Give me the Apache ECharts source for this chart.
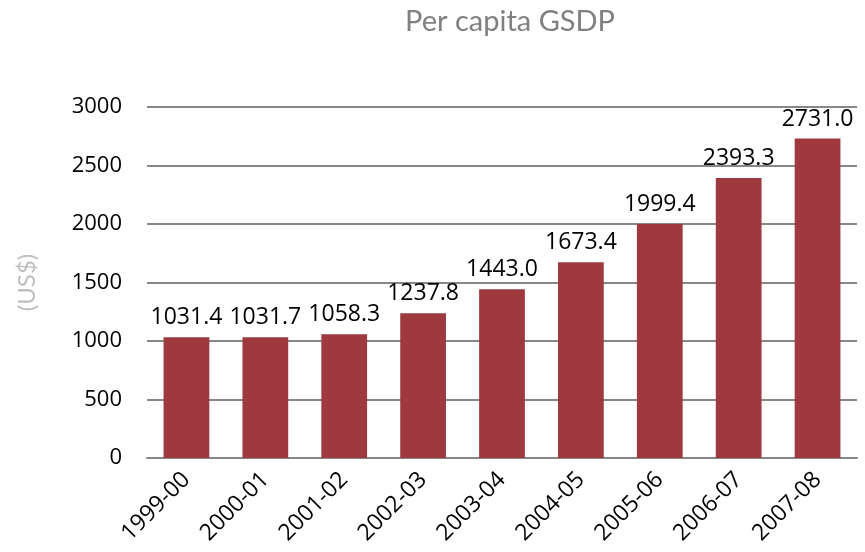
<!DOCTYPE html>
<html><head><meta charset="utf-8">
<script src="https://cdn.jsdelivr.net/npm/echarts@6/dist/echarts.min.js"></script>
<style>html,body{margin:0;padding:0;background:#fff}#c{width:865px;height:552px}</style>
</head><body><div id="c"></div>
<script>
const categories = ['1999-00','2000-01','2001-02','2002-03','2003-04','2004-05','2005-06','2006-07','2007-08'];
const values = [1031.4, 1031.7, 1058.3, 1237.8, 1443.0, 1673.4, 1999.4, 2393.3, 2731.0];
const yTicks = [0, 500, 1000, 1500, 2000, 2500, 3000];
const titleText = 'Per capita GSDP';
const yName = '(US$)';

const chart = echarts.init(document.getElementById('c'));
chart.setOption({
  animation: false,
  title: { text: titleText, left: 505, top: 2, textAlign: 'center',
    textStyle: { fontFamily: 'Lato', fontWeight: 'normal', fontSize: 29, color: '#808080' } },
  grid: { left: 147, right: 8, top: 107, bottom: 94, containLabel: false },
  xAxis: { type: 'category', data: categories,
    axisLine: { lineStyle: { color: '#878787', width: 2 } },
    axisTick: { show: false },
    axisLabel: { rotate: 45, color: '#000', fontSize: 23, fontFamily: 'Open Sans', margin: 18, interval: 0 } },
  yAxis: { type: 'value', min: yTicks[0], max: yTicks[yTicks.length-1], interval: 500,
    name: yName, nameLocation: 'middle', nameGap: 108, nameRotate: 90,
    nameTextStyle: { color: '#BFBFBF', fontSize: 24, fontFamily: 'Lato' },
    axisLine: { show: false }, axisTick: { show: false },
    splitLine: { lineStyle: { color: '#878787', width: 2 } },
    axisLabel: { color: '#000', fontSize: 22, fontFamily: 'Open Sans', margin: 25,
      formatter: v => String(v) } },
  series: [{ type: 'bar', data: values, barWidth: '58%',
    itemStyle: { color: '#9E3A3F' },
    label: { show: true, position: 'top', distance: 8, color: '#000', fontSize: 23, fontFamily: 'Open Sans',
      formatter: p => p.value.toFixed(1) } }]
});
</script></body></html>
